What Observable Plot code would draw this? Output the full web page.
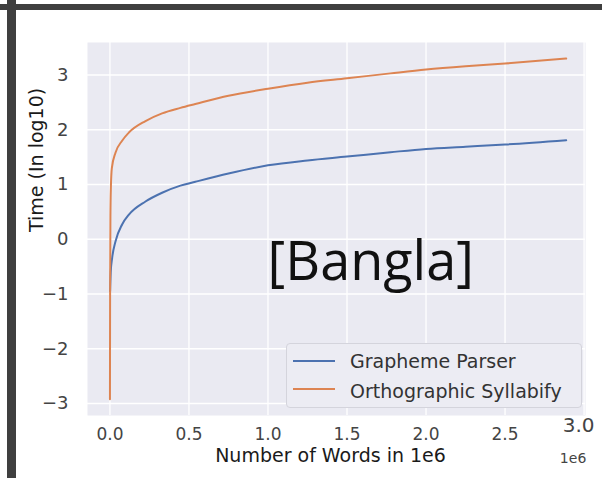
<!DOCTYPE html>
<html>
<head>
<meta charset="utf-8">
<script src="https://cdn.jsdelivr.net/npm/d3@7"></script>
<script src="https://cdn.jsdelivr.net/npm/@observablehq/plot@0.6"></script>
<style>
  html, body { margin: 0; padding: 0; background: #ffffff; }
  #wrap { position: relative; width: 602px; height: 478px; overflow: hidden; font-family: "DejaVu Sans", sans-serif; }
  #wrap svg { position: absolute; left: 0; top: 0; }
  .bar { position: absolute; background: #3f3f3f; }
  #legend { position: absolute; left: 286px; top: 343px; width: 296px; height: 65px; box-sizing: border-box;
    background: #ececf3; border: 1px solid #d4d4dc; border-radius: 4px; }
  .lg-row { position: absolute; left: 6px; height: 22px; line-height: 22px; font-size: 19px; color: #333; white-space: nowrap; }
  .lg-sw { position: absolute; left: 0; top: 8px; width: 42px; height: 2px; }
  .lg-tx { position: absolute; left: 57px; top: 0; }
</style>
</head>
<body>
<div id="wrap"></div>
<script>
(function () {
// ---- data (x in millions of words, y = log10 time) ----
const seriesNames = ["Grapheme Parser", "Orthographic Syllabify"];
const seriesColors = ["#4c72b0", "#dd8452"];

const graphemeX = [0.001, 0.005, 0.014, 0.035, 0.077, 0.12, 0.225, 0.33, 0.446, 0.54, 0.75, 1.0, 1.25, 1.5, 1.775, 2.0, 2.25, 2.5, 2.887];
const graphemeY = [-0.95, -0.6, -0.34, -0.04, 0.27, 0.45, 0.69, 0.85, 0.98, 1.05, 1.2, 1.35, 1.44, 1.51, 1.59, 1.65, 1.69, 1.73, 1.81];

const orthoX = [0.0, 0.001, 0.003, 0.006, 0.012, 0.035, 0.077, 0.12, 0.225, 0.33, 0.446, 0.54, 0.75, 1.0, 1.25, 1.5, 1.775, 2.0, 2.25, 2.5, 2.887];
const orthoY = [-2.92, -1.0, 0.4, 0.95, 1.3, 1.58, 1.8, 1.95, 2.16, 2.30, 2.40, 2.47, 2.62, 2.75, 2.86, 2.94, 3.03, 3.10, 3.16, 3.21, 3.30];

const xTicks = [0, 0.5, 1.0, 1.5, 2.0, 2.5];
const xGrid = [0, 0.5, 1.0, 1.5, 2.0, 2.5, 3.0];
const yTicks = [-3, -2, -1, 0, 1, 2, 3];
const xLastTick = [3.0];
const xLabel = "Number of Words in 1e6";
const yLabel = "Time (In log10)";
const xOffsetText = "1e6";
const annotation = [{text: "[Bangla]", x: 1.65, y: -0.42}];

// ---- build table ----
const rows = [
  ...graphemeX.map((x, i) => ({series: seriesNames[0], x, y: graphemeY[i]})),
  ...orthoX.map((x, i) => ({series: seriesNames[1], x, y: orthoY[i]}))
];

const chart = Plot.plot({
  width: 602,
  height: 478,
  marginLeft: 87,
  marginRight: 17,
  marginTop: 42,
  marginBottom: 63,
  style: {background: "transparent", fontFamily: "DejaVu Sans, sans-serif", overflow: "visible"},
  x: {domain: [-0.142, 3.009]},
  y: {domain: [-3.219, 3.594]},
  color: {domain: seriesNames, range: seriesColors},
  marks: [
    Plot.frame({fill: "#eaeaf2", stroke: null}),
    Plot.gridX(xGrid, {stroke: "#ffffff", strokeOpacity: 1, strokeWidth: 1.3}),
    Plot.gridY(yTicks, {stroke: "#ffffff", strokeOpacity: 1, strokeWidth: 1.3}),
    Plot.line(rows, {x: "x", y: "y", z: "series", stroke: "series", strokeWidth: 2, curve: "monotone-x"}),
    Plot.axisX(xTicks, {tickSize: 0, tickPadding: 12, fontSize: 17, color: "#444", label: null, tickFormat: d => d3.format(".1f")(d)}),
    Plot.axisY(yTicks, {tickSize: 0, tickPadding: 19, fontSize: 18, color: "#444", label: null, tickFormat: d => d3.format("d")(d)}),
    Plot.text(xLastTick, {x: d => d, text: d => d3.format(".1f")(d), frameAnchor: "bottom", dy: 16.6, dx: -5.5, fontSize: 20, fill: "#444"}),
    Plot.text([xOffsetText], {x: () => xLastTick[0], text: d => d, frameAnchor: "bottom", dy: 47.5, dx: -11, fontSize: 14, fill: "#444"}),
    Plot.text([xLabel], {text: d => d, frameAnchor: "bottom", dy: 46, dx: -6, fontSize: 19, fill: "#1a1a1a"}),
    Plot.text([yLabel], {text: d => d, frameAnchor: "left", dx: -51, dy: 3, rotate: -90, fontSize: 19, fill: "#1a1a1a"}),
    Plot.text(annotation, {x: "x", y: "y", text: "text", fontSize: 54, fontFamily: "Open Sans", fill: "#111"})
  ]
});

const wrap = document.getElementById("wrap");
wrap.appendChild(chart);

// slide frame bars
const barTop = document.createElement("div");
barTop.className = "bar";
Object.assign(barTop.style, {left: "0px", top: "4px", width: "602px", height: "6px"});
wrap.appendChild(barTop);
const barLeft = document.createElement("div");
barLeft.className = "bar";
Object.assign(barLeft.style, {left: "7px", top: "0px", width: "9px", height: "478px"});
wrap.appendChild(barLeft);

// legend (HTML, built from the series arrays)
const legend = document.createElement("div");
legend.id = "legend";
seriesNames.forEach((name, i) => {
  const row = document.createElement("div");
  row.className = "lg-row";
  row.style.top = (6 + i * 30) + "px";
  const sw = document.createElement("div");
  sw.className = "lg-sw";
  sw.style.background = seriesColors[i];
  sw.style.top = (10 - i * 2) + "px";
  const tx = document.createElement("div");
  tx.className = "lg-tx";
  tx.textContent = name;
  row.appendChild(sw);
  row.appendChild(tx);
  legend.appendChild(row);
});
wrap.appendChild(legend);
})();
</script>
</body>
</html>
